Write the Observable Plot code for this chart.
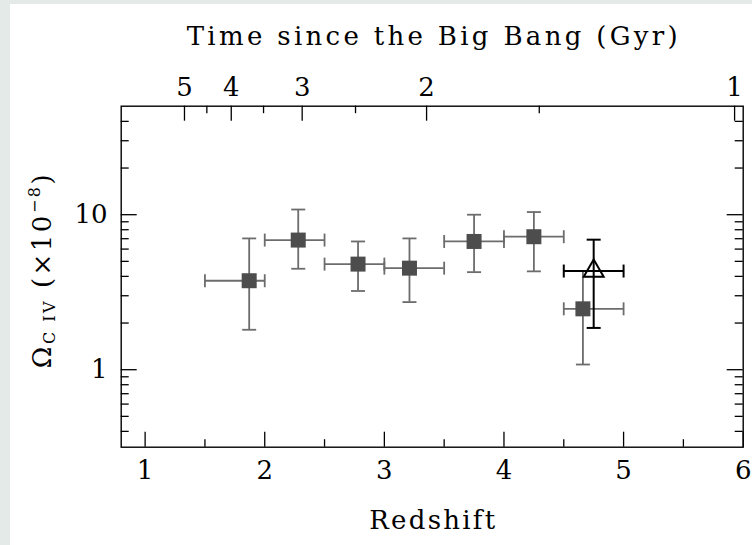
<!DOCTYPE html>
<html><head><meta charset="utf-8">
<script src="https://cdn.jsdelivr.net/npm/d3@7"></script>
<script src="https://cdn.jsdelivr.net/npm/@observablehq/plot@0.6"></script>
<style>
html,body{margin:0;padding:0;background:#e3eae7;width:752px;height:545px;overflow:hidden}
#chart{position:absolute;left:10px;top:4px;width:742px;height:541px;background:#fff}
#chart svg{display:block;background:#fff}
</style></head><body><div id="chart"></div>
<script>
// ---- data ----
const redshift   = [1.87, 2.28, 2.78, 3.21, 3.75, 4.25, 4.66];
const redshiftLo = [1.5, 2.0, 2.5, 3.0, 3.5, 4.0, 4.5];
const redshiftHi = [2.0, 2.5, 3.0, 3.5, 4.0, 4.5, 5.0];
const omegaCIV   = [3.75, 6.86, 4.80, 4.52, 6.72, 7.21, 2.47];
const omegaLo    = [1.81, 4.48, 3.22, 2.73, 4.26, 4.31, 1.08];
const omegaHi    = [7.03, 10.8, 6.72, 7.03, 10.0, 10.4, 4.33];
// open triangle point
const triZ = [4.75], triZLo = [4.5], triZHi = [5.0];
const triOmega = [4.33], triLo = [1.86], triHi = [6.9];
// ticks
const xMajorTicks = [1, 2, 3, 4, 5, 6];
const xMinorTicks = [1.5, 2.5, 3.5, 4.5, 5.5];
const yMajorTicks = [1, 10];
const yMinorTicks = [0.4, 0.5, 0.6, 0.7, 0.8, 0.9, 2, 3, 4, 5, 6, 7, 8, 9, 20, 30, 40];
const timeLabels = ["5", "4", "3", "2", "1"];
const timeMajorZ = [1.329, 1.720, 2.313, 3.353, 5.928];
const timeMinorZ = [1.516, 1.990, 2.759, 4.295];
const xTitle = "Redshift";
const topTitle = "Time since the Big Bang (Gyr)";

// ---- layout ----
const W = 742, H = 541;
const mL = 110.7, mR = 9.3, mT = 101.7, mB = 98.3;
const fw = W - mL - mR, fh = H - mT - mB;
const FONT = "DejaVu Serif";
const FS = 26;
const grey = "#6c6c6c", sq = "#4d4d4d";

const hcap = {draw(ctx, size){ const r = Math.sqrt(size/Math.PI); ctx.moveTo(-r,0); ctx.lineTo(r,0);} };
const vcap = {draw(ctx, size){ const r = Math.sqrt(size/Math.PI); ctx.moveTo(0,-r); ctx.lineTo(0,r);} };

const idx = redshift.map((_, i) => i);
const tIdx = triZ.map((_, i) => i);
const tickStyle = {stroke: "black", strokeWidth: 1.3};

const chart = Plot.plot({
  width: W, height: H,
  marginLeft: mL, marginRight: mR, marginTop: mT, marginBottom: mB,
  style: {fontFamily: FONT, background: "white", color: "black", overflow: "visible"},
  x: {type: "linear", domain: [0.8, 6.0], axis: null},
  y: {type: "log", domain: [Math.pow(10, -0.5), Math.pow(10, 1.7)], axis: null},
  marks: [
    Plot.tickX(xMajorTicks, {x: d => d, insetTop: fh - 15, ...tickStyle}),
    Plot.tickX(xMinorTicks, {x: d => d, insetTop: fh - 7.5, ...tickStyle}),
    Plot.tickX(timeMajorZ, {x: d => d, insetBottom: fh - 15, ...tickStyle}),
    Plot.tickX(timeMinorZ, {x: d => d, insetBottom: fh - 7.5, ...tickStyle}),
    Plot.tickY(yMajorTicks, {y: d => d, insetRight: fw - 16, ...tickStyle}),
    Plot.tickY(yMinorTicks, {y: d => d, insetRight: fw - 8, ...tickStyle}),
    Plot.tickY(yMajorTicks, {y: d => d, insetLeft: fw - 16, ...tickStyle}),
    Plot.tickY(yMinorTicks, {y: d => d, insetLeft: fw - 8, ...tickStyle}),
    Plot.frame({stroke: "black", strokeWidth: 1.4}),
    Plot.text(xMajorTicks, {x: d => d, text: d => String(d), frameAnchor: "bottom", dy: 32, lineAnchor: "bottom", fontSize: FS}),
    Plot.text(timeMajorZ, {x: d => d, text: (d, i) => timeLabels[i], frameAnchor: "top", dy: -10.7, lineAnchor: "bottom", fontSize: FS}),
    Plot.text(yMajorTicks, {y: d => d, text: d => String(d), frameAnchor: "left", dx: -13.7, textAnchor: "end", lineAnchor: "middle", fontSize: FS}),
    Plot.text([xTitle], {text: d => d, frameAnchor: "bottom", dy: 82, lineAnchor: "bottom", fontSize: FS}),
    Plot.text([topTitle], {text: d => d, frameAnchor: "top", dy: -60.7, lineAnchor: "bottom", fontSize: FS}),
    Plot.ruleY(idx, {y: i => omegaCIV[i], x1: i => redshiftLo[i], x2: i => redshiftHi[i], stroke: grey, strokeWidth: 1.8}),
    Plot.ruleX(idx, {x: i => redshift[i], y1: i => omegaLo[i], y2: i => omegaHi[i], stroke: grey, strokeWidth: 1.8}),
    Plot.dot(idx, {x: i => redshift[i], y: i => omegaHi[i], symbol: hcap, r: 7, stroke: grey, strokeWidth: 1.8, fill: "none"}),
    Plot.dot(idx, {x: i => redshift[i], y: i => omegaLo[i], symbol: hcap, r: 7, stroke: grey, strokeWidth: 1.8, fill: "none"}),
    Plot.dot(idx, {x: i => redshiftLo[i], y: i => omegaCIV[i], symbol: vcap, r: 6.5, stroke: grey, strokeWidth: 1.8, fill: "none"}),
    Plot.dot(idx, {x: i => redshiftHi[i], y: i => omegaCIV[i], symbol: vcap, r: 6.5, stroke: grey, strokeWidth: 1.8, fill: "none"}),
    Plot.dot(idx, {x: i => redshift[i], y: i => omegaCIV[i], symbol: "square", r: 8.46, fill: sq, stroke: "none"}),
    Plot.ruleY(tIdx, {y: i => triOmega[i], x1: i => triZLo[i], x2: i => triZHi[i], stroke: "black", strokeWidth: 2}),
    Plot.ruleX(tIdx, {x: i => triZ[i], y1: i => triLo[i], y2: i => triHi[i], stroke: "black", strokeWidth: 2}),
    Plot.dot(tIdx, {x: i => triZ[i], y: i => triHi[i], symbol: hcap, r: 7, stroke: "black", strokeWidth: 2, fill: "none"}),
    Plot.dot(tIdx, {x: i => triZ[i], y: i => triLo[i], symbol: hcap, r: 7, stroke: "black", strokeWidth: 2, fill: "none"}),
    Plot.dot(tIdx, {x: i => triZLo[i], y: i => triOmega[i], symbol: vcap, r: 6.5, stroke: "black", strokeWidth: 2, fill: "none"}),
    Plot.dot(tIdx, {x: i => triZHi[i], y: i => triOmega[i], symbol: vcap, r: 6.5, stroke: "black", strokeWidth: 2, fill: "none"}),
    Plot.dot(tIdx, {x: i => triZ[i], y: i => triOmega[i], symbol: "triangle", r: 7.42, fill: "none", stroke: "black", strokeWidth: 2})
  ]
});
document.getElementById("chart").appendChild(chart);

const svg = d3.select(chart);
// widen the long labels to the reference's spacing
svg.selectAll("text").filter(function(){ return this.textContent === topTitle; })
  .attr("textLength", 491).attr("lengthAdjust", "spacing");
svg.selectAll("text").filter(function(){ return this.textContent === xTitle; })
  .attr("textLength", 126).attr("lengthAdjust", "spacing");

// y-axis label with subscript / superscript
const yl = svg.append("text")
  .attr("transform", "translate(41,266) rotate(-90)")
  .attr("text-anchor", "middle")
  .attr("font-family", FONT)
  .attr("font-size", FS)
  .attr("letter-spacing", "2.5px")
  .attr("fill", "black");
yl.append("tspan").text("Ω");
yl.append("tspan").attr("font-size", 16).attr("dy", 4).text("C IV");
yl.append("tspan").attr("dy", -4).text(" (×10");
yl.append("tspan").attr("font-size", 16).attr("dy", -11).text("−8");
yl.append("tspan").attr("dy", 11).text(")");
</script></body></html>
